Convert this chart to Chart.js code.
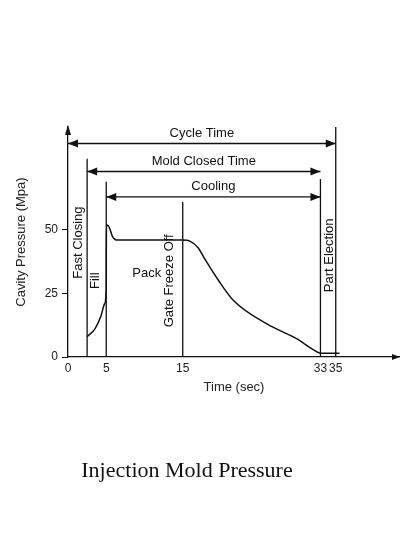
<!DOCTYPE html>
<html><head><meta charset="utf-8">
<script src="https://cdn.jsdelivr.net/npm/chart.js@4"></script>
<style>html,body{margin:0;padding:0;background:#fff}#w{width:400px;height:550px}</style>
</head><body><div id="w"><canvas id="c"></canvas></div>
<script>
const times = [2.5,3.5,4.3,4.8,5,5.02,5.4,5.8,6.5,15,16,17,18,19.7,21.7,26,30,32,33,35.5];
const pressures = [8,11,16,21,27,52,51,47.5,46,46,45.5,43,38,30,22,13,7,3,1.5,1.5];
const xTicks = [0,5,15,33,35];
const yTicks = [0,25,50];
// vertical markers: time, top pressure
const markerTimes = [2.5,5,15,33,35];
const markerTops = [78,69,61,70,90.5];
// span arrows: from, to, level, label
const spanFrom = [0,2.5,5];
const spanTo = [35,33,33];
const spanLevel = [84,73,63];
const spanLabels = ['Cycle Time','Mold Closed Time','Cooling'];
// rotated phase labels: time, pressure(center), text
const phaseTimes = [1.3,3.6,13.2,34.2];
const phaseLevels = [45,30,30,40];
const phaseLabels = ['Fast Closing','Fill','Gate Freeze Off','Part Election'];
const packLabel = {t:10.3, p:33, text:'Pack'};
const chartTitle = 'Injection Mold Pressure';

const F = '"Liberation Sans", Arial, sans-serif';
const deco = {
  id:'deco',
  afterDatasetsDraw(ch){
    const c=ch.ctx, x=ch.scales.x, y=ch.scales.y, a=ch.chartArea;
    c.save(); c.strokeStyle='#111'; c.fillStyle='#111'; c.lineWidth=1.3;
    markerTimes.forEach((t,i)=>{const px=x.getPixelForValue(t);
      c.beginPath();c.moveTo(px,y.getPixelForValue(0));c.lineTo(px,y.getPixelForValue(markerTops[i]));c.stroke();});
    const head=(px,py,dir)=>{c.beginPath();c.moveTo(px,py);c.lineTo(px-dir*10,py-4);c.lineTo(px-dir*10,py+4);c.closePath();c.fill();};
    c.font='13px '+F; c.textAlign='center'; c.textBaseline='bottom';
    spanFrom.forEach((f,i)=>{const x1=x.getPixelForValue(f),x2=x.getPixelForValue(spanTo[i]),py=y.getPixelForValue(spanLevel[i]);
      c.beginPath();c.moveTo(x1,py);c.lineTo(x2,py);c.stroke();head(x1,py,-1);head(x2,py,1);
      c.fillText(spanLabels[i],(x1+x2)/2,py-4);});
    c.textBaseline='middle';
    phaseTimes.forEach((t,i)=>{c.save();c.translate(x.getPixelForValue(t),y.getPixelForValue(phaseLevels[i]));c.rotate(-Math.PI/2);c.fillText(phaseLabels[i],0,0);c.restore();});
    c.fillText(packLabel.text,x.getPixelForValue(packLabel.t),y.getPixelForValue(packLabel.p));
    const ox=a.left, oy=a.bottom;
    c.beginPath();c.moveTo(ox,a.top-2);c.lineTo(ox-3,a.top+8);c.lineTo(ox+3,a.top+8);c.closePath();c.fill();
    c.beginPath();c.moveTo(a.right,oy);c.lineTo(a.right-8,oy-3);c.lineTo(a.right-8,oy+3);c.closePath();c.fill();
    c.font='22px "Liberation Serif", "Times New Roman", serif'; c.textAlign='center'; c.textBaseline='middle';
    c.fillText(chartTitle,187,471);
    c.restore();
  }
};
new Chart(document.getElementById('c'),{
  type:'line',
  data:{datasets:[{data:times.map((t,i)=>({x:t,y:pressures[i]})),borderColor:'#111',borderWidth:1.5,pointRadius:0,cubicInterpolationMode:'monotone',fill:false}]},
  options:{responsive:true,maintainAspectRatio:false,animation:false,
    layout:{padding:{top:127,right:0,bottom:151,left:10}},
    plugins:{legend:{display:false},tooltip:{enabled:false}},
    scales:{
      x:{type:'linear',min:0,max:43.4,
        afterBuildTicks(s){s.ticks=xTicks.map(v=>({value:v}));},
        afterFit(s){s.height=42;},
        grid:{display:false,drawTicks:false},border:{color:'#111',width:1.3},
        ticks:{color:'#222',font:{size:12,family:F},padding:4,autoSkip:false,maxRotation:0},
        title:{display:true,text:'Time (sec)',color:'#222',font:{size:13,family:F},padding:{top:0}}},
      y:{min:0,max:90.5,
        afterBuildTicks(s){s.ticks=yTicks.map(v=>({value:v}));},
        afterFit(s){s.width=58;},
        grid:{drawOnChartArea:false,tickLength:6,color:'#111'},border:{color:'#111',width:1.3},
        ticks:{color:'#222',font:{size:12,family:F},padding:4},
        title:{display:true,text:'Cavity Pressure (Mpa)',color:'#222',font:{size:13,family:F},padding:{bottom:0}}}
    }},
  plugins:[deco]
});
</script></body></html>
